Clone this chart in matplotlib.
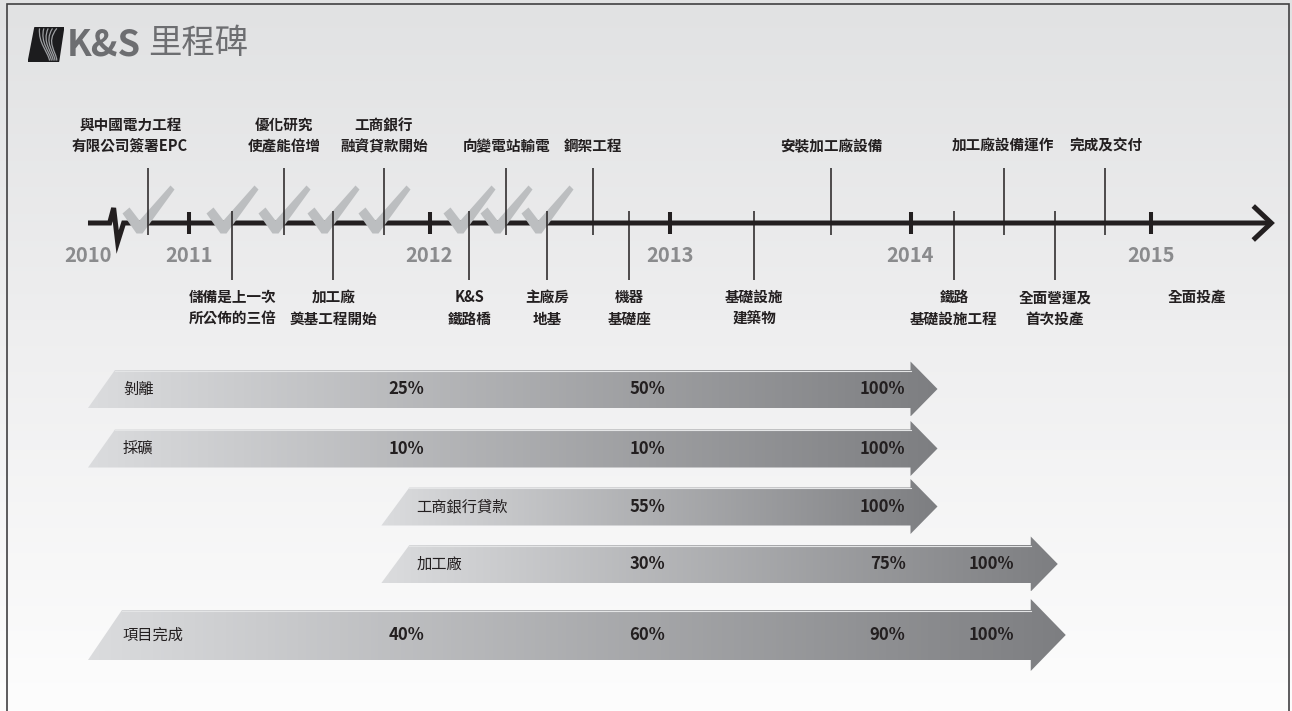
import matplotlib
matplotlib.use("Agg")
import matplotlib.pyplot as plt
import numpy as np
from matplotlib.path import Path
from matplotlib.patches import Polygon, Rectangle, PathPatch
from matplotlib.colors import LinearSegmentedColormap

# ---------------- data ----------------
years = [2011, 2012, 2013, 2014, 2015]
year_labels = ["2010", "2011", "2012", "2013", "2014", "2015"]
year_label_x = [2010.58, 2011, 2012, 2013, 2014, 2015]

event_x = [2010.83, 2011.18, 2011.395, 2011.60, 2011.81, 2012.165, 2012.32, 2012.49,
           2012.68, 2012.83, 2013.35, 2013.67, 2014.18, 2014.39, 2014.60, 2014.81, 2015.19]
event_label_x = [2010.755, 2011.18, 2011.395, 2011.60, 2011.81, 2012.165, 2012.32, 2012.49,
                 2012.68, 2012.83, 2013.35, 2013.67, 2014.18, 2014.385, 2014.60, 2014.815, 2015.19]
event_text = ["與中國電力工程\n有限公司簽署EPC", "儲備是上一次\n所公佈的三倍", "優化研究\n使產能倍增",
              "加工廠\n奠基工程開始", "工商銀行\n融資貸款開始", "K&S\n鐵路橋", "向變電站輸電",
              "主廠房\n地基", "鋼架工程", "機器\n基礎座", "基礎設施\n建築物", "安裝加工廠設備",
              "鐵路\n基礎設施工程", "加工廠設備運作", "全面營運及\n首次投產", "完成及交付", "全面投產"]
event_side = ["up", "down", "up", "down", "up", "down", "up", "down",
              "up", "down", "down", "up", "down", "up", "down", "up", "down"]
event_done = [True, True, True, True, True, True, True, True,
              False, False, False, False, False, False, False, False, False]
event_stem = [True] * 16 + [False]

timeline_start = 2010.58
timeline_break = 2010.67
timeline_end = 2015.5

bar_names = ["剝離", "採礦", "工商銀行貸款", "加工廠", "項目完成"]
bar_start = [2010.58, 2010.58, 2011.80, 2011.80, 2010.58]
bar_end = [2014.0, 2014.0, 2014.0, 2014.5, 2014.5]
bar_pct = [["25%", "50%", "100%"],
           ["10%", "10%", "100%"],
           ["55%", "100%"],
           ["30%", "75%", "100%"],
           ["40%", "60%", "90%", "100%"]]
bar_pct_x = [[2012, 2013, 2014],
             [2012, 2013, 2014],
             [2013, 2014],
             [2013, 2014, 2014.45],
             [2012, 2013, 2014, 2014.45]]

# ---------------- layout ----------------
W, H, DPI = 1292, 711, 100
PX = 240.5                      # pixels per year
X0 = 2011 - 189 / PX
AXIS_Y = 223
DARK = "#231f20"


def px(n):
    return n / PX


plt.rcParams["font.family"] = ["Noto Sans CJK TC", "DejaVu Sans"]

fig = plt.figure(figsize=(W / DPI, H / DPI), dpi=DPI)
ax = fig.add_axes([0, 0, 1, 1])
ax.set_autoscale_on(False)
ax.set_xlim(X0, X0 + W / PX)
ax.set_ylim(H, 0)
ax.axis("off")

# background
bg = LinearSegmentedColormap.from_list("bg", [(0, "#e1e2e3"), (0.45, "#eeeeef"), (1, "#fdfdfd")])
ax.imshow(np.linspace(0, 1, 256)[:, None], cmap=bg, aspect="auto",
          extent=(X0, X0 + W / PX, H, 0), zorder=0)
ax.add_patch(Rectangle((7 / W, -0.01), 1282 / W, 1.01 - 4 / H, transform=ax.transAxes,
                       fill=False, ec="#414042", lw=1.2, zorder=1))

# title + logo
lax = fig.add_axes([28 / W, 1 - 62 / H, 36 / W, 35 / H])
lax.set_xlim(0, 1)
lax.set_ylim(0, 1)
lax.axis("off")
lax.add_patch(Polygon([(0.02, 0.02), (0.2, 0.98), (0.98, 0.98), (0.84, 0.02)],
                      closed=True, fc="#1c1c1e", ec="#1c1c1e", lw=1.5, joinstyle="round"))
for k in range(5):
    verts = [(0.32 + k * 0.12, 0.96), (0.28 + k * 0.05, 0.55), (0.55 + k * 0.06, 0.3), (0.6 + k * 0.05, 0.04)]
    lax.add_patch(PathPatch(Path(verts, [Path.MOVETO, Path.CURVE4, Path.CURVE4, Path.CURVE4]),
                            fc="none", ec="#9d9fa2", lw=0.9))
fig.text(67 / W, 1 - 45 / H, "K&S", fontsize=26, fontweight="bold", color="#6d6e71",
         ha="left", va="center")
fig.text(148 / W, 1 - 44 / H, "里程碑", fontsize=24, color="#6d6e71", ha="left", va="center")

# timeline
b = timeline_break
ax.plot([timeline_start, b, b + px(4), b + px(8), b + px(14), timeline_end],
        [AXIS_Y, AXIS_Y, AXIS_Y - 15, AXIS_Y + 19, AXIS_Y, AXIS_Y],
        color=DARK, lw=3.6, solid_joinstyle="miter", solid_capstyle="butt", zorder=2)
ax.plot([timeline_end - px(18), timeline_end, timeline_end - px(18)],
        [AXIS_Y - 17, AXIS_Y, AXIS_Y + 17], color=DARK, lw=3.6,
        solid_joinstyle="miter", solid_capstyle="butt", zorder=2)
ax.vlines(years, AXIS_Y - 11, AXIS_Y + 11, color=DARK, lw=2.9, zorder=2)
for lab, x in zip(year_labels, year_label_x):
    ax.text(x, 255, lab, ha="center", va="center", fontsize=14.5, fontweight="bold",
            color="#8a8b8d")

# check marks (drawn at each completed milestone)
check = Path([(-26, 10), (-19, 16), (-9, 3), (22, 38), (26, 34), (-6, -10), (-12, -10), (-26, 10)],
             [Path.MOVETO] + [Path.LINETO] * 6 + [Path.CLOSEPOLY])
ms = 2 * 38 * 72 / DPI
done_x = [x for x, d in zip(event_x, event_done) if d]
ax.plot(done_x, [AXIS_Y] * len(done_x), ls="none", marker=check, ms=ms,
        mfc="#bcbec0", mec="none", zorder=3)

# events
for x, lx, txt, side, stem in zip(event_x, event_label_x, event_text, event_side, event_stem):
    lines = txt.split("\n")
    if side == "up":
        if stem:
            ax.vlines(x, 168, 235, color=DARK, lw=1.1, zorder=4)
        ys = [146 - 21 * (len(lines) - 1 - i) for i in range(len(lines))]
    else:
        if stem:
            ax.vlines(x, 211, 280, color=DARK, lw=1.1, zorder=4)
        ys = [297 + 22 * i for i in range(len(lines))]
    for line, y in zip(lines, ys):
        ax.text(lx, y, line, ha="center", va="center", fontsize=10.5, color=DARK,
                fontweight="bold")

# progress arrows
row_y = [389, 448.5, 506.5, 564, 635]
body_h = [38, 38, 38, 38, 50]
head_h = [55, 55, 55, 55, 72]
head_d = [27, 27, 27, 27, 35]
slant = [27, 27, 28, 28, 34]
grad = LinearSegmentedColormap.from_list("bar", ["#dbdcde", "#7d7e81"])

for i, name in enumerate(bar_names):
    x0, x1, yc = bar_start[i], bar_end[i], row_y[i]
    bh, hh, d = body_h[i] / 2, head_h[i] / 2, head_d[i]
    verts = [(x0, yc + bh), (x0 + px(slant[i]), yc - bh), (x1, yc - bh), (x1, yc - hh),
             (x1 + px(d), yc), (x1, yc + hh), (x1, yc + bh)]
    poly = Polygon(verts, closed=True, fc="none", ec="none", zorder=2)
    ax.add_patch(poly)
    im = ax.imshow(np.linspace(0, 1, 256)[None, :], cmap=grad, aspect="auto",
                   extent=(x0, x1 + px(d), yc + hh, yc - hh), zorder=2)
    im.set_clip_path(poly)
    ax.plot([x0 + px(slant[i]), x1], [yc - bh + 0.5, yc - bh + 0.5], color="#e4e5e6", lw=0.8, zorder=3)
    ax.text(x0 + px(35), yc, name, ha="left", va="center", fontsize=11, color=DARK, zorder=4)
    for lab, px_x in zip(bar_pct[i], bar_pct_x[i]):
        ax.text(px_x - px(5), yc, lab, ha="right", va="center", fontsize=12,
                fontweight="bold", color=DARK, zorder=4)

fig.savefig("out.png", dpi=DPI)
